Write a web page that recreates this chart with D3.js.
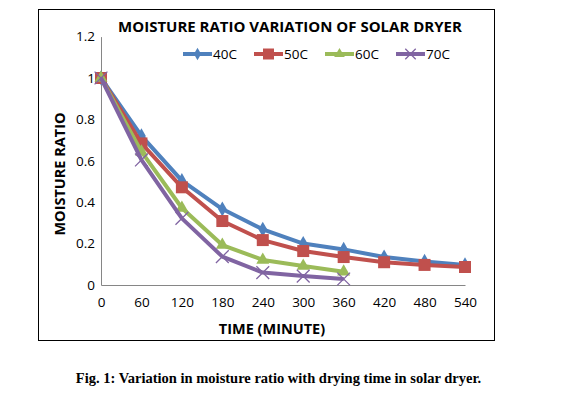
<!DOCTYPE html>
<html>
<head>
<meta charset="utf-8">
<script src="https://cdn.jsdelivr.net/npm/d3@7"></script>
<style>
  body { margin: 0; background: #fff; }
  svg { display: block; }
</style>
</head>
<body>
<script>
// data
const times = [0, 60, 120, 180, 240, 300, 360, 420, 480, 540];
const mr40 = [1, 0.72, 0.504, 0.367, 0.269, 0.2, 0.172, 0.135, 0.114, 0.097];
const mr50 = [1, 0.684, 0.472, 0.309, 0.217, 0.164, 0.135, 0.11, 0.097, 0.087];
const mr60 = [1, 0.644, 0.372, 0.193, 0.121, 0.092, 0.064];
const mr70 = [1, 0.604, 0.322, 0.137, 0.06, 0.043, 0.029];
const yTicks = [0, 0.2, 0.4, 0.6, 0.8, 1, 1.2];

const series = [
  {name: "40C", values: mr40, color: "#4F81BD", marker: "diamond"},
  {name: "50C", values: mr50, color: "#C0504D", marker: "square"},
  {name: "60C", values: mr60, color: "#9BBB59", marker: "triangle"},
  {name: "70C", values: mr70, color: "#8064A2", marker: "x"}
];

const W = 568, H = 393;
const svg = d3.select("body").append("svg").attr("width", W).attr("height", H);

// chart frame
svg.append("rect").attr("x", 38.5).attr("y", 9.5).attr("width", 456).attr("height", 331)
  .attr("fill", "#fff").attr("stroke", "#000").attr("stroke-width", 1);

const x = d3.scaleLinear().domain([0, 540]).range([101, 465]);
const y = d3.scaleLinear().domain([0, 1.2]).range([285, 36.6]);

const font = "'Open Sans', 'Noto Sans', sans-serif";

// axes
const xAxis = svg.append("g").attr("transform", "translate(0,285)")
  .call(d3.axisBottom(x).tickValues(times).tickSize(0).tickPadding(12));
const yAxis = svg.append("g").attr("transform", "translate(101,0)")
  .call(d3.axisLeft(y).tickValues(yTicks).tickSize(0).tickPadding(6).tickFormat(d3.format("")));
[xAxis, yAxis].forEach(g => {
  g.select(".domain").attr("stroke", "#868686").attr("stroke-width", 1);
  g.selectAll("text").attr("font-family", font).attr("font-size", 13.5).attr("fill", "#000");
});

// lines + markers
const line = d3.line().x((d, i) => x(times[i])).y(d => y(d));

function drawMarker(g, type, color, size) {
  if (type === "x") {
    g.append("path").attr("d", d3.symbol(d3.symbolX, size * size * 0.9)())
      .attr("stroke", color).attr("stroke-width", 1.3).attr("fill", "none");
  } else if (type === "diamond") {
    g.append("path").attr("d", d3.symbol(d3.symbolDiamond, size * size * 0.55)()).attr("fill", color);
  } else if (type === "square") {
    g.append("path").attr("d", d3.symbol(d3.symbolSquare, size * size)()).attr("fill", color);
  } else {
    g.append("path").attr("d", d3.symbol(d3.symbolTriangle, size * size * 0.6)()).attr("fill", color);
  }
}

series.forEach(s => {
  svg.append("path").datum(s.values).attr("d", line)
    .attr("fill", "none").attr("stroke", s.color).attr("stroke-width", 4)
    .attr("stroke-linejoin", "round");
  s.values.forEach((v, i) => {
    const g = svg.append("g").attr("transform", `translate(${x(times[i])},${y(v)})`);
    drawMarker(g, s.marker, s.color, s.marker === "square" ? 12 : 11);
  });
});

// title
svg.append("text").attr("x", 290).attr("y", 32).attr("text-anchor", "middle")
  .attr("font-family", font).attr("font-weight", "bold").attr("font-size", 15)
  .text("MOISTURE RATIO VARIATION OF SOLAR DRYER");

// legend
const legX = [183, 254, 325, 396];
series.forEach((s, i) => {
  const g = svg.append("g").attr("transform", `translate(${legX[i]},54)`);
  g.append("line").attr("x1", 0).attr("x2", 29).attr("stroke", s.color).attr("stroke-width", 4);
  const m = g.append("g").attr("transform", "translate(14.5,0)");
  drawMarker(m, s.marker, s.color, s.marker === "square" ? 11 : 9);
  g.append("text").attr("x", 30).attr("y", 5).attr("font-family", font).attr("font-size", 13.5)
    .text(s.name);
});

// axis titles
svg.append("text").attr("transform", "translate(60,174) rotate(-90)").attr("text-anchor", "middle")
  .attr("dy", "0.35em")
  .attr("font-family", font).attr("font-weight", "bold").attr("font-size", 14.5)
  .text("MOISTURE RATIO");
svg.append("text").attr("x", 272).attr("y", 334).attr("text-anchor", "middle")
  .attr("font-family", font).attr("font-weight", "bold").attr("font-size", 14.5)
  .text("TIME (MINUTE)");

// caption
svg.append("text").attr("x", 278.5).attr("y", 383).attr("text-anchor", "middle")
  .attr("font-family", "'Liberation Serif', 'Times New Roman', serif").attr("font-weight", "bold")
  .attr("font-size", 14.5).text("Fig. 1: Variation in moisture ratio with drying time in solar dryer.");
</script>
</body>
</html>
